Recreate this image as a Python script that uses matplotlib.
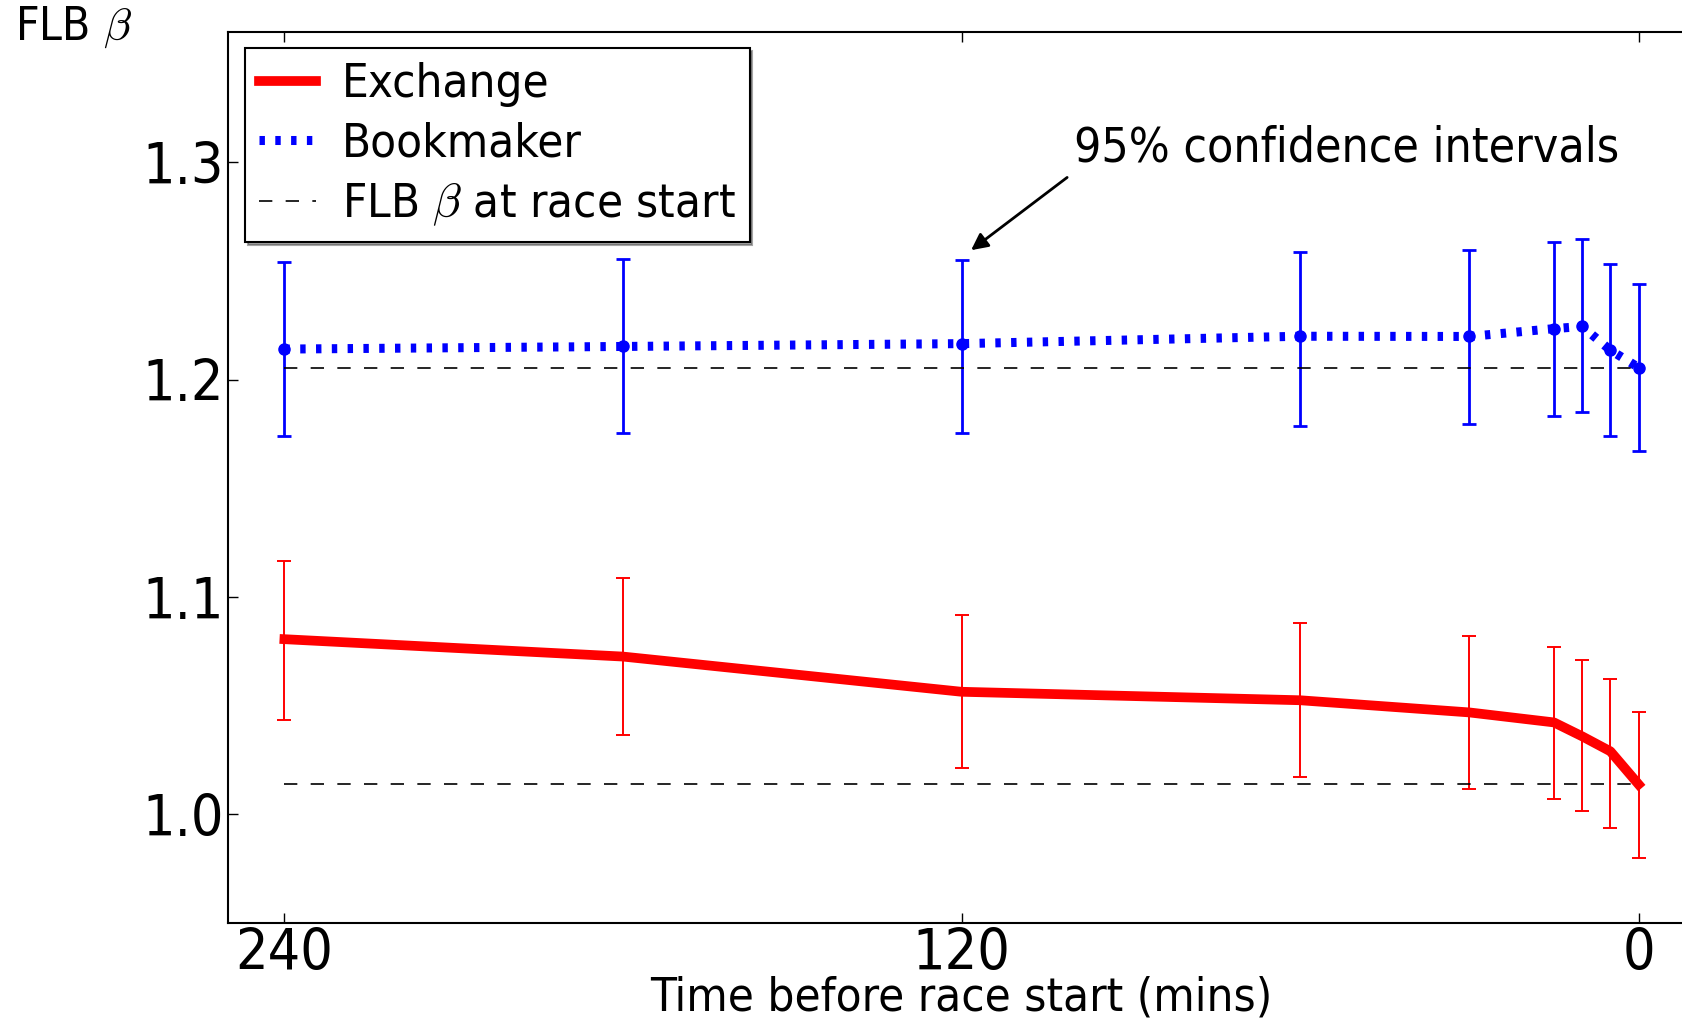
import matplotlib
matplotlib.use('Agg')
import matplotlib.pyplot as plt

# minutes before the race start
minutes = [240, 180, 120, 60, 30, 15, 10, 5, 0]

# exchange FLB beta with 95% CI bounds
exchange = [1.0806, 1.0726, 1.0564, 1.0525, 1.0469, 1.0423, 1.0359, 1.0290, 1.0138]
exchange_hi = [1.1165, 1.1086, 1.0918, 1.0879, 1.0821, 1.0772, 1.0708, 1.0622, 1.0472]
exchange_lo = [1.0436, 1.0364, 1.0215, 1.0170, 1.0115, 1.0072, 1.0015, 0.9937, 0.9800]

# bookmaker FLB beta with 95% CI bounds
bookmaker = [1.2141, 1.2153, 1.2166, 1.2200, 1.2199, 1.2235, 1.2245, 1.2136, 1.2056]
bookmaker_hi = [1.2541, 1.2554, 1.2552, 1.2586, 1.2598, 1.2633, 1.2648, 1.2534, 1.2442]
bookmaker_lo = [1.1743, 1.1755, 1.1755, 1.1789, 1.1797, 1.1832, 1.1853, 1.1743, 1.1671]

xticks = [240, 120, 0]
yticks = [1.0, 1.1, 1.2, 1.3]

plt.rcParams['font.family'] = 'DejaVu Sans'
plt.rcParams['font.stretch'] = 'condensed'
plt.rcParams['mathtext.fontset'] = 'cm'

fig = plt.figure(figsize=(16.82, 10.22), dpi=100)
ax = fig.add_axes([228 / 1682, 1 - 923 / 1022, 1467 / 1682, 891 / 1022])

ex_err = [[e - l for e, l in zip(exchange, exchange_lo)],
          [h - e for e, h in zip(exchange, exchange_hi)]]
bm_err = [[b - l for b, l in zip(bookmaker, bookmaker_lo)],
          [h - b for b, h in zip(bookmaker, bookmaker_hi)]]

ax.errorbar(minutes, exchange, yerr=ex_err, fmt='none', ecolor='red',
            elinewidth=1.4, capsize=4.7, capthick=1.4)
ax.errorbar(minutes, bookmaker, yerr=bm_err, fmt='o', color='blue', ecolor='blue',
            markersize=8, elinewidth=2.0, capsize=4.7, capthick=2.0)

ax.plot(minutes, exchange, color='red', lw=7, solid_joinstyle='round',
        label='Exchange')
ax.plot(minutes, bookmaker, color='blue', lw=6.5, linestyle=(0, (0.6, 1.15)),
        label='Bookmaker')

# reference lines at the race start value
ax.plot([minutes[0], minutes[-1]], [exchange[-1], exchange[-1]], color='black',
        lw=1.2, linestyle=(0, (8, 8)), label=r'FLB $\beta$ at race start')
ax.plot([minutes[0], minutes[-1]], [bookmaker[-1], bookmaker[-1]], color='black',
        lw=1.2, linestyle=(0, (8, 8)))

ax.set_xlim(250, -10)
ax.set_ylim(0.95, 1.36)
ax.set_xticks(xticks)
ax.set_yticks(yticks)
ax.set_yticklabels(['1.0', '1.1', '1.2', '1.3'])
ax.tick_params(direction='in', length=7, width=1, labelsize=41,
               top=True, right=True)
ax.tick_params(axis='y', pad=3)
ax.tick_params(axis='x', pad=3)
for s in ax.spines.values():
    s.set_linewidth(1.5)

ax.set_xlabel('Time before race start (mins)', fontsize=34, labelpad=-5)
fig.text(0.009, 1 - 27 / 1022, r'FLB $\beta$', fontsize=33, va='center', ha='left')

ax.annotate('95% confidence intervals', xy=(118.3, 1.2596), xytext=(100, 1.3064),
            fontsize=34.5, ha='left', va='center',
            arrowprops=dict(arrowstyle='-|>', color='black', lw=2,
                            mutation_scale=25, relpos=(0, 0), shrinkA=4, shrinkB=0))

leg = ax.legend(loc='upper left', bbox_to_anchor=(17 / 1467, 1 - 16 / 891),
                borderaxespad=0, fontsize=34, shadow=True, fancybox=False,
                handlelength=1.2, handletextpad=0.55, labelspacing=0.3,
                borderpad=0.3)
leg.get_frame().set_edgecolor('black')
leg.get_frame().set_linewidth(1.5)

fig.savefig('out.png', dpi=100)
